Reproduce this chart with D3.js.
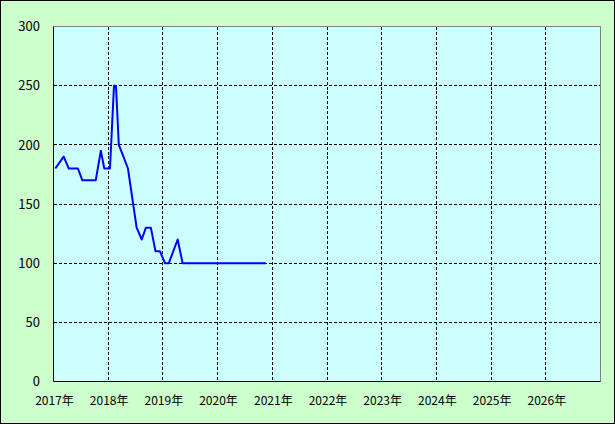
<!DOCTYPE html>
<html>
<head>
<meta charset="utf-8">
<script src="https://cdn.jsdelivr.net/npm/d3@7"></script>
<style>
  body { margin: 0; background: #fff; }
  svg { display: block; }
  .ylab { font-family: "Noto Sans CJK JP", "DejaVu Sans", sans-serif; font-size: 13px; fill: #000; }
  .xlab { font-family: "Noto Sans CJK JP", "DejaVu Sans", sans-serif; font-size: 12px; fill: #000; }
  .grid { stroke: #000; stroke-width: 1px; stroke-dasharray: 3,2; shape-rendering: crispEdges; }
</style>
</head>
<body>
<svg id="chart"></svg>
<script>
// dates and prices
var dates = ["2017-01-13","2017-03-10","2017-04-13","2017-06-13","2017-07-13","2017-10-10",
  "2017-11-13","2017-12-06","2018-01-13","2018-02-09","2018-02-22","2018-03-13","2018-04-13",
  "2018-05-13","2018-07-10","2018-08-13","2018-09-10","2018-10-13","2018-11-13","2018-12-13",
  "2019-01-15","2019-02-10","2019-04-10","2019-05-13","2020-11-18"];
var prices = [180,190,180,180,170,170,195,180,180,250,250,200,190,180,130,120,130,130,110,110,
  100,100,120,100,100];
var yTicks = [0,50,100,150,200,250,300];
var years = [2017,2018,2019,2020,2021,2022,2023,2024,2025,2026];

var W = 615, H = 424;
// plot area edges (named so they don't clash with window.top)
var plotL = 53.5, plotR = 600.5, plotT = 26.5, plotB = 381.5;

var svg = d3.select("#chart").attr("width", W).attr("height", H);

// outer background + frame
svg.append("rect").attr("x", 0.5).attr("y", 0.5).attr("width", W - 1).attr("height", H - 1)
  .attr("fill", "#ccffcc").attr("stroke", "#000");

svg.append("rect").attr("x", plotL).attr("y", plotT)
  .attr("width", plotR - plotL).attr("height", plotB - plotT)
  .attr("fill", "#ccffff");

var parse = d3.timeParse("%Y-%m-%d");
var x = d3.scaleTime()
  .domain([new Date(2017, 0, 1), new Date(2027, 0, 1)])
  .range([plotL, plotR]);
var y = d3.scaleLinear().domain([0, 300]).range([plotB, plotT]);

// dashed grid
svg.selectAll(".hgrid").data(yTicks.filter(function(d){ return d > 0 && d < 300; }))
  .enter().append("line").attr("class", "grid")
  .attr("x1", plotL).attr("x2", plotR)
  .attr("y1", function(d){ return Math.floor(y(d)) + 0.5; })
  .attr("y2", function(d){ return Math.floor(y(d)) + 0.5; });

svg.selectAll(".vgrid").data(years.slice(1))
  .enter().append("line").attr("class", "grid")
  .attr("y1", plotT).attr("y2", plotB)
  .attr("x1", function(d){ return Math.floor(x(new Date(d, 0, 1))) + 0.5; })
  .attr("x2", function(d){ return Math.floor(x(new Date(d, 0, 1))) + 0.5; });

// plot frame: grey top/right, black left/bottom
svg.append("path").attr("d", "M" + plotL + "," + plotT + "H" + plotR + "V" + plotB)
  .attr("fill", "none").attr("stroke", "#808080");
svg.append("path").attr("d", "M" + plotL + "," + plotT + "V" + plotB + "H" + plotR)
  .attr("fill", "none").attr("stroke", "#000");

// line
var pts = dates.map(function(d, i){ return [parse(d), prices[i]]; });
var line = d3.line()
  .x(function(d){ return x(d[0]); })
  .y(function(d){ return y(d[1]); });
svg.append("path").datum(pts).attr("d", line)
  .attr("fill", "none").attr("stroke", "#0000ff").attr("stroke-width", 2)
  .attr("stroke-linejoin", "round");

// y labels
svg.selectAll(".ylab").data(yTicks).enter().append("text").attr("class", "ylab")
  .attr("x", 40).attr("y", function(d){ return y(d); })
  .attr("dy", "0.36em").attr("text-anchor", "end")
  .text(function(d){ return d; });

// x labels
svg.selectAll(".xlab").data(years).enter().append("text").attr("class", "xlab")
  .attr("x", function(d){ return x(new Date(d, 0, 1)) + 1; })
  .attr("y", 405).attr("text-anchor", "middle")
  .text(function(d){ return d + "年"; });
</script>
</body>
</html>
